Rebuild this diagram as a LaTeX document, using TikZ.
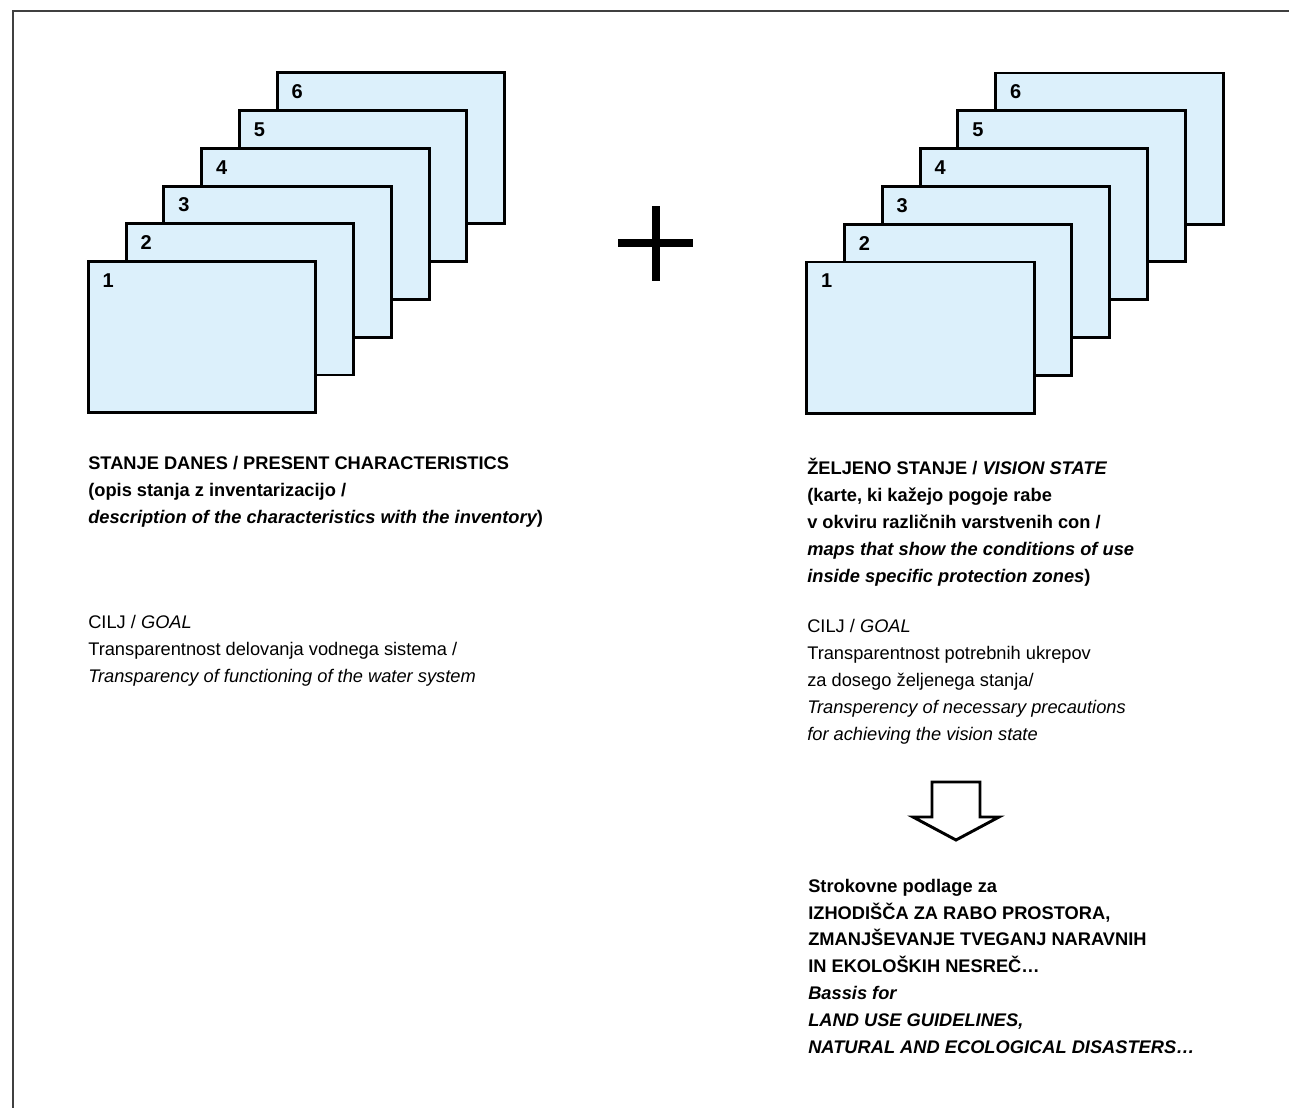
\documentclass[tikz,border=0pt]{standalone}
\usepackage{fontspec}
\setmainfont{Liberation Sans}
\definecolor{sheetblue}{RGB}{220,240,251}
\begin{document}
\begin{tikzpicture}[x=.75pt,y=-.75pt,
  sheet/.style={draw,line width=2.2pt,fill=sheetblue,minimum width=170.5pt,minimum height=113.3pt,inner sep=0,outer sep=0,anchor=north west},
  num/.style={inner sep=0,font=\fontsize{15}{15}\selectfont\bfseries},
  txt/.style={anchor=base west,align=left,inner sep=0,font=\fontsize{13.7}{20.1}\selectfont}]
\useasboundingbox (0,0) rectangle (1289,1108);
\draw[line width=1.4pt,black!75] (1289,11) -- (13.3,11) -- (13.3,1108);
%%%%
\foreach \i in {6,5,...,1}{
\node[sheet] (a\i) at ({88.3+(\i-1)*37.8},{261.7-(\i-1)*37.8}) {};
\node[num] (na\i) at ([shift={(20,19)}]a\i.north west) {\i};
}
\foreach \i in {6,5,...,1}{
\node[sheet] (b\i) at ({806.7+(\i-1)*37.8},{262-(\i-1)*37.8}) {};
\node[num] (nb\i) at ([shift={(20,19)}]b\i.north west) {\i};
}
\draw[line width=6pt] (656,206) -- (656,281);
\draw[line width=6pt] (618,243) -- (693,243);
%%%% base = last line
\node[txt] (present) at (88,523) {\bfseries STANJE DANES / PRESENT CHARACTERISTICS\\
\bfseries (opis stanja z inventarizacijo /\\
\bfseries\itshape description of the characteristics with the inventory\upshape)};
\node[txt] (goalA) at (88,682) {CILJ / \textit{GOAL}\\
Transparentnost delovanja vodnega sistema /\\
\itshape Transparency of functioning of the water system};
\node[txt] (vision) at (807,582) {\bfseries ŽELJENO STANJE / \textit{VISION STATE}\\
\bfseries (karte, ki kažejo pogoje rabe\\
\bfseries v okviru različnih varstvenih con /\\
\bfseries\itshape maps that show the conditions of use\\
\bfseries\itshape inside specific protection zones\upshape)};
\node[txt] (goalB) at (807,740) {CILJ / \textit{GOAL}\\
Transparentnost potrebnih ukrepov\\
za dosego željenega stanja/\\
\itshape Transperency of necessary precautions\\
\itshape for achieving the vision state};
\node[txt] (basis) at (808,1053) {\bfseries Strokovne podlage za\\
\bfseries IZHODIŠČA ZA RABO PROSTORA,\\
\bfseries ZMANJŠEVANJE TVEGANJ NARAVNIH\\
\bfseries IN EKOLOŠKIH NESREČ…\\
\bfseries\itshape Bassis for\\
\bfseries\itshape LAND USE GUIDELINES,\\
\bfseries\itshape NATURAL AND ECOLOGICAL DISASTERS…};
\draw[line width=2.2pt,line join=miter] (932,782) -- (980,782) -- (980,817) -- (999,817)
  -- (956,840) -- (913,817) -- (932,817) -- cycle;
\end{tikzpicture}
\end{document}
